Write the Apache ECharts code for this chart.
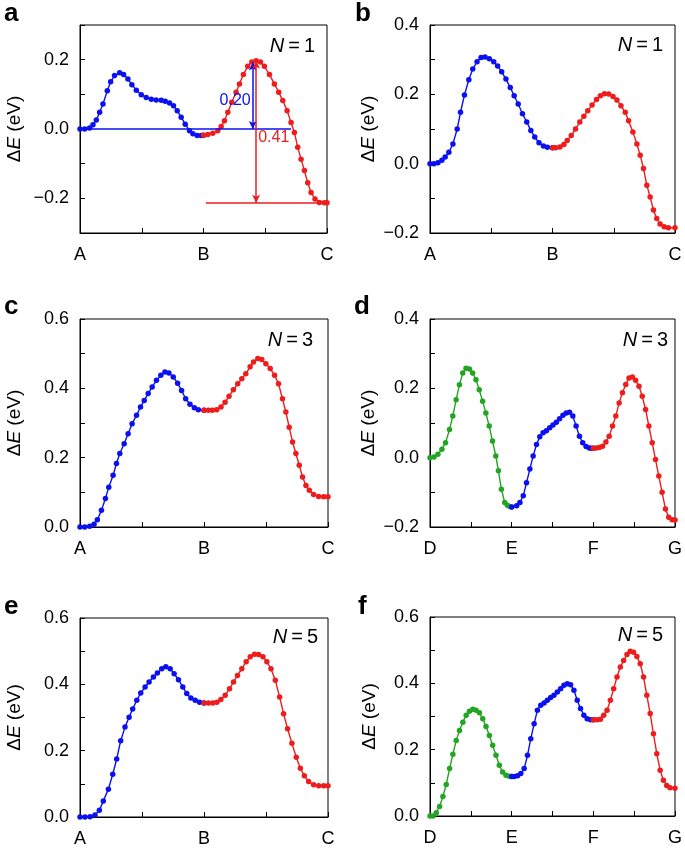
<!DOCTYPE html>
<html><head><meta charset="utf-8">
<script src="https://cdn.jsdelivr.net/npm/echarts@6/dist/echarts.min.js"></script>
<style>html,body{margin:0;padding:0;background:#fff}#c{width:685px;height:848px}</style>
</head><body><div id="c"></div>
<script>
// ---------- data ----------
const labelsABC = ['A','B','C'];
const labelsDEFG = ['D','E','F','G'];

const aBlueX = [0,0.038,0.078,0.105,0.132,0.159,0.186,0.221,0.248,0.280,0.321,0.353,0.388,0.420,0.456,0.496,0.536,0.577,0.617,0.658,0.690,0.725,0.757,0.787,0.819,0.852,0.887,0.914,0.949,0.981,1.0];
const aBlueY = [0,0,0.003,0.012,0.026,0.048,0.072,0.11,0.136,0.154,0.162,0.157,0.144,0.128,0.112,0.099,0.091,0.086,0.084,0.083,0.08,0.075,0.067,0.053,0.034,0.014,-0.005,-0.014,-0.019,-0.019,-0.018];
const aRedX = [1.0,1.035,1.075,1.116,1.143,1.170,1.197,1.229,1.264,1.291,1.323,1.358,1.391,1.426,1.461,1.493,1.534,1.574,1.609,1.642,1.677,1.709,1.736,1.763,1.790,1.817,1.844,1.871,1.903,1.938,1.978,2.0];
const aRedY = [-0.018,-0.016,-0.012,-0.005,0.007,0.024,0.048,0.077,0.106,0.13,0.157,0.181,0.193,0.197,0.193,0.181,0.157,0.13,0.106,0.082,0.053,0.019,-0.01,-0.053,-0.087,-0.12,-0.155,-0.183,-0.202,-0.212,-0.213,-0.213];

const bBlueX = [0,0.032,0.065,0.097,0.124,0.154,0.187,0.222,0.249,0.281,0.317,0.349,0.384,0.417,0.449,0.484,0.520,0.552,0.585,0.620,0.655,0.687,0.720,0.755,0.790,0.823,0.855,0.890,0.926,0.958,1.0];
const bBlueY = [0,0,0.003,0.01,0.019,0.033,0.057,0.10,0.148,0.198,0.242,0.273,0.294,0.306,0.308,0.303,0.294,0.282,0.265,0.244,0.22,0.196,0.172,0.144,0.12,0.096,0.077,0.06,0.051,0.047,0.046];
const bRedX = [1.0,1.026,1.061,1.093,1.12,1.153,1.188,1.223,1.256,1.288,1.323,1.359,1.391,1.424,1.459,1.494,1.526,1.559,1.594,1.621,1.656,1.689,1.716,1.743,1.770,1.797,1.824,1.851,1.878,1.911,1.946,2.0];
const bRedY = [0.046,0.046,0.048,0.055,0.067,0.081,0.10,0.12,0.137,0.153,0.169,0.185,0.196,0.202,0.201,0.194,0.184,0.167,0.148,0.124,0.091,0.057,0.024,-0.014,-0.062,-0.096,-0.134,-0.158,-0.174,-0.182,-0.185,-0.185];

const cBlueX = [0,0.038,0.078,0.113,0.140,0.173,0.205,0.232,0.267,0.294,0.321,0.356,0.388,0.420,0.456,0.488,0.518,0.550,0.582,0.617,0.652,0.685,0.717,0.752,0.787,0.819,0.852,0.887,0.922,0.954,1.0];
const cBlueY = [0,0,0.002,0.008,0.021,0.048,0.082,0.115,0.149,0.183,0.212,0.24,0.269,0.298,0.322,0.346,0.365,0.385,0.404,0.423,0.438,0.447,0.444,0.433,0.415,0.394,0.37,0.354,0.344,0.338,0.337];
const cRedX = [1.0,1.035,1.067,1.102,1.137,1.170,1.202,1.237,1.272,1.305,1.337,1.372,1.399,1.434,1.466,1.499,1.534,1.569,1.601,1.633,1.660,1.687,1.714,1.741,1.768,1.795,1.822,1.849,1.884,1.925,1.965,2.0];
const cRedY = [0.337,0.337,0.337,0.338,0.346,0.36,0.377,0.396,0.413,0.428,0.442,0.462,0.476,0.486,0.483,0.471,0.457,0.438,0.413,0.37,0.332,0.288,0.245,0.212,0.178,0.144,0.12,0.106,0.094,0.088,0.087,0.087];

const dGreenX = [0,0.049,0.097,0.146,0.190,0.239,0.279,0.320,0.360,0.401,0.441,0.482,0.522,0.563,0.603,0.644,0.684,0.725,0.765,0.806,0.838,0.874,0.915,0.947,0.975,1.0];
const dGreenY = [0,0.002,0.01,0.024,0.043,0.081,0.12,0.167,0.21,0.244,0.258,0.256,0.244,0.225,0.196,0.163,0.129,0.091,0.048,0.005,-0.038,-0.091,-0.129,-0.137,-0.141,-0.142];
const dBlueX = [1.0,1.061,1.101,1.142,1.182,1.223,1.263,1.304,1.344,1.385,1.425,1.466,1.506,1.547,1.587,1.628,1.668,1.709,1.749,1.789,1.830,1.870,1.911,1.951,1.976,2.0];
const dBlueY = [-0.142,-0.139,-0.129,-0.11,-0.072,-0.033,0.005,0.038,0.06,0.072,0.078,0.086,0.094,0.102,0.112,0.122,0.129,0.131,0.12,0.091,0.062,0.043,0.032,0.028,0.027,0.027];
const dRedX = [2.0,2.036,2.073,2.113,2.154,2.194,2.235,2.275,2.316,2.356,2.397,2.437,2.478,2.518,2.559,2.599,2.640,2.680,2.721,2.761,2.802,2.842,2.883,2.923,2.964,3.0];
const dRedY = [0.027,0.028,0.029,0.033,0.045,0.062,0.091,0.12,0.158,0.187,0.211,0.23,0.233,0.223,0.206,0.177,0.139,0.091,0.043,-0.005,-0.053,-0.1,-0.148,-0.172,-0.179,-0.18];

const eBlueX = [0,0.040,0.081,0.121,0.156,0.188,0.229,0.264,0.296,0.328,0.363,0.396,0.425,0.458,0.490,0.525,0.557,0.592,0.624,0.659,0.692,0.727,0.759,0.794,0.829,0.861,0.894,0.929,0.964,1.0];
const eBlueY = [0,0,0.001,0.006,0.02,0.048,0.084,0.129,0.175,0.23,0.271,0.301,0.326,0.352,0.374,0.392,0.407,0.422,0.434,0.447,0.453,0.447,0.432,0.414,0.392,0.372,0.359,0.352,0.346,0.344];
const eRedX = [1.0,1.036,1.071,1.104,1.136,1.171,1.206,1.238,1.270,1.305,1.340,1.373,1.408,1.440,1.475,1.507,1.540,1.575,1.610,1.642,1.674,1.709,1.744,1.777,1.809,1.844,1.884,1.925,1.965,2.0];
const eRedY = [0.344,0.344,0.344,0.346,0.354,0.367,0.387,0.407,0.427,0.447,0.468,0.483,0.491,0.49,0.483,0.468,0.447,0.412,0.362,0.311,0.266,0.222,0.18,0.147,0.124,0.107,0.097,0.094,0.094,0.094];

const fGreenX = [0,0.037,0.077,0.118,0.158,0.199,0.240,0.280,0.321,0.361,0.402,0.443,0.483,0.524,0.564,0.605,0.646,0.686,0.727,0.767,0.808,0.849,0.889,0.930,0.970,1.0];
const fGreenY = [0,0,0.01,0.029,0.059,0.095,0.143,0.186,0.228,0.258,0.283,0.304,0.316,0.322,0.319,0.311,0.293,0.27,0.243,0.213,0.183,0.153,0.133,0.123,0.12,0.119];
const fBlueX = [1.0,1.031,1.072,1.112,1.153,1.194,1.234,1.275,1.315,1.356,1.397,1.437,1.478,1.518,1.559,1.600,1.640,1.681,1.721,1.762,1.803,1.843,1.884,1.924,1.965,2.0];
const fBlueY = [0.119,0.119,0.121,0.128,0.143,0.183,0.233,0.278,0.319,0.334,0.341,0.349,0.357,0.364,0.374,0.384,0.394,0.399,0.396,0.379,0.349,0.324,0.304,0.293,0.29,0.29];
const fRedX = [2.0,2.046,2.087,2.127,2.168,2.209,2.249,2.290,2.330,2.371,2.412,2.452,2.493,2.533,2.574,2.615,2.655,2.696,2.736,2.777,2.818,2.858,2.899,2.939,3.0];
const fRedY = [0.29,0.29,0.292,0.304,0.319,0.349,0.384,0.419,0.449,0.469,0.487,0.497,0.494,0.481,0.459,0.419,0.364,0.309,0.248,0.188,0.138,0.108,0.092,0.085,0.084];

// panel a annotations (data coordinates)
const annBlueBase = [[0, 0], [1.709, 0]];
const annBlueArrow = [[1.399, 0.192], [1.399, 0]];
const annRedArrow = [[1.426, 0.197], [1.426, -0.213]];
const annRedBase = [[1.02, -0.213], [2.0, -0.213]];
const annBlueText = ['0.20', 1.256, 0.082];
const annRedText = ['0.41', 1.569, -0.026];

const nLabels = ['1', '1', '3', '3', '5', '5'];
const panelLetters = ['a', 'b', 'c', 'd', 'e', 'f'];

// ---------- styling / layout ----------
const FONT = '"Liberation Sans", Arial, sans-serif';
const BLUE = '#0a10f0', RED = '#ee1c1c', GREEN = '#22a522';
const grids = [
  {left: 80, top: 25, width: 247, height: 208},
  {left: 430, top: 25, width: 245, height: 208},
  {left: 80, top: 319, width: 248, height: 208},
  {left: 430, top: 319, width: 248, height: 208},
  {left: 80, top: 618, width: 248, height: 199},
  {left: 430, top: 617, width: 247, height: 199}
];
const yRanges = [[-0.3, 0.3], [-0.2, 0.4], [0, 0.6], [-0.2, 0.4], [0, 0.6], [0, 0.6]];
const xLetters = [labelsABC, labelsABC, labelsABC, labelsDEFG, labelsABC, labelsDEFG];
const nameGaps = [56, 52, 56, 52, 56, 51];

const zip = (xs, ys) => xs.map((x, i) => [x, ys[i]]);

const xAxes = grids.map((g, i) => ({
  type: 'value', gridIndex: i, min: 0, max: xLetters[i].length - 1, interval: 0.5,
  axisLine: {show: true, onZero: false, lineStyle: {color: '#000', width: 1}},
  axisTick: {show: true, inside: true, length: 5, lineStyle: {color: '#000', width: 1}},
  splitLine: {show: false},
  axisLabel: {
    color: '#000', fontSize: 18, fontFamily: FONT, margin: 13,
    formatter: v => Math.abs(v - Math.round(v)) < 1e-6 ? xLetters[i][Math.round(v)] : ''
  }
}));
const yAxes = grids.map((g, i) => ({
  type: 'value', gridIndex: i, min: yRanges[i][0], max: yRanges[i][1], interval: 0.1,
  axisLine: {show: true, onZero: false, lineStyle: {color: '#000', width: 1}},
  axisTick: {show: true, inside: true, length: 5, lineStyle: {color: '#000', width: 1}},
  splitLine: {show: false},
  axisLabel: {
    color: '#000', fontSize: 18, fontFamily: FONT, margin: 11,
    formatter: v => {
      const k = Math.round(v * 10);
      if (k % 2 !== 0) return '';
      return (k < 0 ? '\u2212' : '') + Math.abs(k / 10).toFixed(1);
    }
  },
  name: '{d|\u0394}{e|E}{d| (eV)}', nameLocation: 'middle', nameGap: nameGaps[i],
  nameTextStyle: {
    rich: {
      d: {fontSize: 19, fontFamily: FONT, color: '#000'},
      e: {fontSize: 19, fontFamily: FONT, color: '#000', fontStyle: 'italic'}
    }
  }
}));

function seg(i, data, color, extra) {
  return Object.assign({
    type: 'line', xAxisIndex: i, yAxisIndex: i, data: data,
    symbol: 'circle', symbolSize: 5.5, showSymbol: true,
    lineStyle: {color: color, width: 1.4}, itemStyle: {color: color},
    animation: false, silent: true, z: 3
  }, extra || {});
}
function ml(pairs, color) {
  return {
    silent: true, animation: false, label: {show: false},
    lineStyle: {color: color, width: 1.5, type: 'solid', opacity: 1},
    data: pairs.map(p => [
      {coord: p.c[0], symbol: p.s[0], symbolSize: [6, 8]},
      {coord: p.c[1], symbol: p.s[1], symbolSize: [6, 8]}
    ])
  };
}
function mp(t, color) {
  return {
    silent: true, animation: false, symbol: 'circle', symbolSize: 2,
    itemStyle: {color: 'rgba(0,0,0,0)'},
    label: {show: true, position: 'inside', formatter: '{b}', color: color,
      fontSize: 16, fontFamily: FONT},
    data: [{name: t[0], coord: [t[1], t[2]]}]
  };
}

const series = [
  seg(0, zip(aBlueX, aBlueY), BLUE, {
    markLine: ml([
      {c: annBlueBase, s: ['none', 'none']},
      {c: annBlueArrow, s: ['arrow', 'arrow']}
    ], BLUE),
    markPoint: mp(annBlueText, BLUE)
  }),
  seg(0, zip(aRedX, aRedY), RED, {
    markLine: ml([
      {c: annRedBase, s: ['none', 'none']},
      {c: annRedArrow, s: ['arrow', 'arrow']}
    ], RED),
    markPoint: mp(annRedText, RED)
  }),
  seg(1, zip(bBlueX, bBlueY), BLUE),
  seg(1, zip(bRedX, bRedY), RED),
  seg(2, zip(cBlueX, cBlueY), BLUE),
  seg(2, zip(cRedX, cRedY), RED),
  seg(3, zip(dGreenX, dGreenY), GREEN),
  seg(3, zip(dBlueX, dBlueY), BLUE),
  seg(3, zip(dRedX, dRedY), RED),
  seg(4, zip(eBlueX, eBlueY), BLUE),
  seg(4, zip(eRedX, eRedY), RED),
  seg(5, zip(fGreenX, fGreenY), GREEN),
  seg(5, zip(fBlueX, fBlueY), BLUE),
  seg(5, zip(fRedX, fRedY), RED)
];

// N labels (right edge, vertical centre) and panel letters
const nPos = [[315, 46], [663, 45], [313, 340], [668, 340], [318, 637], [663, 635]];
const letterPos = [[4, 1], [355, 1], [4, 294], [354, 294], [4, 594], [358, 594]];
const graphic = [];
nPos.forEach((p, i) => graphic.push({
  type: 'text', x: p[0], y: p[1], silent: true,
  style: {
    text: '{i|N}{n|\u2009=\u2009' + nLabels[i] + '}', align: 'right', verticalAlign: 'middle',
    rich: {
      i: {fontSize: 20, fontFamily: FONT, fontStyle: 'italic', fill: '#000'},
      n: {fontSize: 20, fontFamily: FONT, fill: '#000'}
    }
  }
}));
letterPos.forEach((p, i) => graphic.push({
  type: 'text', x: p[0], y: p[1], silent: true,
  style: {text: panelLetters[i], fontSize: 26, fontWeight: 'bold', fontFamily: FONT,
    fill: '#000', align: 'left', verticalAlign: 'top'}
}));

const chart = echarts.init(document.getElementById('c'), null, {renderer: 'canvas'});
chart.setOption({
  backgroundColor: '#fff',
  animation: false,
  grid: grids.map(g => Object.assign({show: true, borderColor: '#000', borderWidth: 1, backgroundColor: 'transparent'}, g)),
  xAxis: xAxes,
  yAxis: yAxes,
  series: series,
  graphic: graphic
});
</script></body></html>
